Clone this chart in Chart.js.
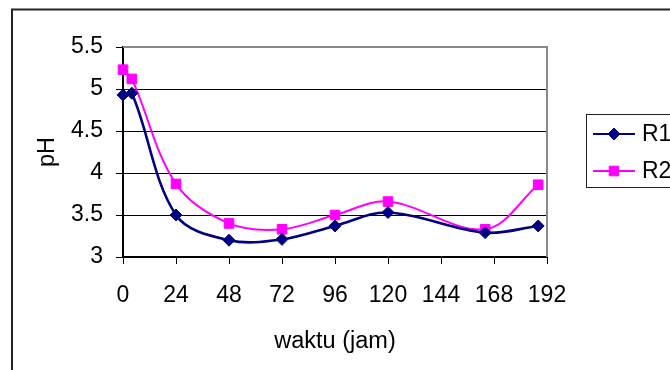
<!DOCTYPE html>
<html>
<head>
<meta charset="utf-8">
<script src="https://cdn.jsdelivr.net/npm/chart.js@4/dist/chart.umd.min.js"></script>
<style>
  html, body { margin: 0; padding: 0; background: #fff; }
  canvas { display: block; }
</style>
</head>
<body>
<canvas id="c" width="670" height="370"></canvas>
<script>
// Sampling times (hours) and measured pH for the two reactors
const hours = [0, 4, 24, 48, 72, 96, 120, 164, 188];
const phR1 = [4.93, 4.95, 3.50, 3.20, 3.21, 3.37, 3.53, 3.29, 3.37];
const phR2 = [5.23, 5.12, 3.87, 3.40, 3.33, 3.50, 3.66, 3.33, 3.86];
const seriesNames = ['R1', 'R2'];
const xTitle = 'waktu (jam)';
const yTitle = 'pH';

const FONT = 'Arial, "Liberation Sans", sans-serif';

function toPoints(xs, ys) {
  return xs.map((x, i) => ({ x: x, y: ys[i] }));
}

// Frame around the whole chart, the grey top/right edge of the plot and a boxed legend
const framePlugin = {
  id: 'frame',
  beforeDraw(chart) {
    const ctx = chart.ctx;
    ctx.save();
    ctx.fillStyle = '#fff';
    ctx.fillRect(0, 0, chart.width, chart.height);
    ctx.strokeStyle = '#222';
    ctx.lineWidth = 2;
    ctx.strokeRect(12, 9.5, chart.width + 20, chart.height + 20);
    ctx.restore();
  },
  afterDatasetsDraw(chart) {
    const ctx = chart.ctx;
    const a = chart.chartArea;
    ctx.save();
    ctx.strokeStyle = '#888';
    ctx.lineWidth = 2;
    ctx.beginPath();
    ctx.moveTo(a.left, a.top);
    ctx.lineTo(a.right, a.top);
    ctx.lineTo(a.right, a.bottom);
    ctx.stroke();
    ctx.restore();
  },
  afterDraw(chart) {
    const ctx = chart.ctx;
    const box = { x: 586.5, y: 114.5, w: 200, h: 73 };
    ctx.save();
    ctx.strokeStyle = '#222';
    ctx.lineWidth = 1;
    ctx.strokeRect(box.x, box.y, box.w, box.h);
    chart.data.datasets.forEach((ds, i) => {
      const yy = 134 + i * 37;
      ctx.strokeStyle = ds.borderColor;
      ctx.lineWidth = 2;
      ctx.beginPath();
      ctx.moveTo(593, yy);
      ctx.lineTo(635, yy);
      ctx.stroke();
      ctx.fillStyle = ds.borderColor;
      ctx.strokeStyle = ds.borderColor;
      ctx.lineWidth = 1;
      Chart.helpers.drawPoint(ctx, {
        pointStyle: ds.pointStyle,
        radius: ds.pointRadius,
        borderWidth: 1,
        rotation: 0
      }, 614, yy);
      ctx.fillStyle = '#000';
      ctx.font = '23px ' + FONT;
      ctx.textAlign = 'left';
      ctx.textBaseline = 'middle';
      ctx.fillText(ds.label, 642, yy + 1);
    });
    ctx.restore();
  }
};

new Chart(document.getElementById('c'), {
  type: 'line',
  data: {
    datasets: [
      {
        label: seriesNames[0],
        data: toPoints(hours, phR1),
        borderColor: '#000080',
        backgroundColor: '#000080',
        borderWidth: 2.6,
        pointStyle: 'rectRot',
        pointRadius: 6,
        pointBorderWidth: 1,
        tension: 0.35,
        clip: false
      },
      {
        label: seriesNames[1],
        data: toPoints(hours, phR2),
        borderColor: '#ff00ff',
        backgroundColor: '#ff00ff',
        borderWidth: 2,
        pointStyle: 'rect',
        pointRadius: 6.8,
        pointBorderWidth: 1,
        tension: 0.35,
        clip: false
      }
    ]
  },
  options: {
    responsive: false,
    animation: false,
    devicePixelRatio: 1,
    layout: { padding: { top: 47, right: 123, bottom: 0, left: 0 } },
    plugins: {
      legend: { display: false },
      tooltip: { enabled: false }
    },
    scales: {
      x: {
        type: 'linear',
        min: 0,
        max: 192,
        afterFit(scale) { scale.height = 113; },
        ticks: {
          stepSize: 24,
          autoSkip: false,
          maxRotation: 0,
          color: '#000',
          padding: 18,
          font: { family: FONT, size: 23 }
        },
        grid: {
          drawOnChartArea: false,
          drawTicks: true,
          tickLength: 7,
          color: '#000',
          lineWidth: 1
        },
        border: { color: '#000', width: 2 },
        title: {
          display: true,
          text: xTitle,
          color: '#000',
          font: { family: FONT, size: 23.5 },
          padding: { top: 0, bottom: 14 }
        }
      },
      y: {
        min: 3,
        max: 5.5,
        afterFit(scale) { scale.width = 123; },
        ticks: {
          stepSize: 0.5,
          color: '#000',
          padding: 13,
          font: { family: FONT, size: 23 },
          callback: (value) => String(value)
        },
        grid: {
          color: '#000',
          lineWidth: 1,
          tickLength: 7
        },
        border: { color: '#000', width: 2 },
        title: {
          display: true,
          text: yTitle,
          color: '#000',
          font: { family: FONT, size: 23.5 },
          padding: { top: 33, bottom: 0 }
        }
      }
    }
  },
  plugins: [framePlugin]
});
</script>
</body>
</html>
